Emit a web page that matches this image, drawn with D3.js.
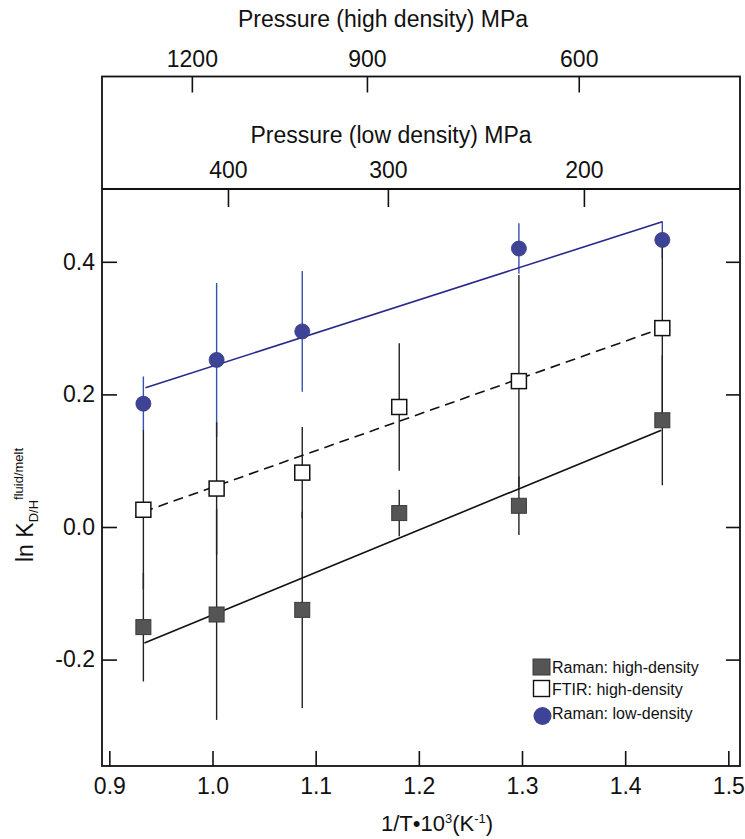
<!DOCTYPE html>
<html>
<head>
<meta charset="utf-8">
<script src="https://cdn.jsdelivr.net/npm/d3@7"></script>
<style>
  body { margin: 0; background: #fff; }
  svg text { font-family: "Liberation Sans", Arial, Helvetica, sans-serif; fill: #111; }
</style>
</head>
<body>
<script>
// data
var invT = [0.933, 1.004, 1.087, 1.181, 1.297, 1.436];
var ramanHD = [-0.151, -0.132, -0.125, 0.021, 0.032, 0.161];
var ramanHDErr = [0.082, 0.159, 0.148, 0.035, 0.044, 0.098];
var ftirHD = [0.026, 0.058, 0.082, 0.181, 0.220, 0.300];
var ftirHDErr = [0.120, 0.100, 0.069, 0.096, 0.160, 0.130];
var ramanLDx = [0.933, 1.004, 1.087, 1.297, 1.436];
var ramanLD = [0.186, 0.252, 0.295, 0.420, 0.433];
var ramanLDErr = [0.041, 0.116, 0.091, 0.038, 0.028];
// fitted lines (end points)
var fitRamanHD = [[0.934, -0.175], [1.435, 0.146]];
var fitFtirHD = [[0.933, 0.023], [1.436, 0.300]];
var fitRamanLD = [[0.935, 0.210], [1.436, 0.4605]];
// axes ticks
var xTicks = [0.9, 1.0, 1.1, 1.2, 1.3, 1.4, 1.5];
var yTicks = [-0.2, 0.0, 0.2, 0.4];
var hdPressure = [1200, 900, 600];
var hdPressureAt = [0.980, 1.1497, 1.355];
var ldPressure = [400, 300, 200];
var ldPressureAt = [1.015, 1.170, 1.360];
var legendLabels = ["Raman: high-density", "FTIR: high-density", "Raman: low-density"];

var W = 745, H = 839;
var left = 102, right = 740, top1 = 76.5, top2 = 189, bottom = 766;
var blue = "#3d4396", blueLine = "#27288a", blueErr = "#3552ad", gray = "#555555";

var svg = d3.select("body").append("svg").attr("width", W).attr("height", H);

var x = d3.scaleLinear().domain([0.8929, 1.5113]).range([left, right]);
var y = d3.scaleLinear().domain([-0.3605, 0.5098]).range([bottom, top2]);

function fmt(d) {
    return d3.format(".1f")(d).replace("\u2212", "-");
}

//坐标轴
var gx = svg.append("g").attr("transform", "translate(0," + bottom + ")")
    .call(d3.axisBottom(x).tickValues(xTicks).tickFormat(fmt).tickSizeInner(-15).tickSizeOuter(0).tickPadding(12));
var gy = svg.append("g").attr("transform", "translate(" + left + ",0)")
    .call(d3.axisLeft(y).tickValues(yTicks).tickFormat(fmt).tickSizeInner(-15).tickSizeOuter(0).tickPadding(7));
var gr = svg.append("g").attr("transform", "translate(" + right + ",0)")
    .call(d3.axisRight(y).tickValues(yTicks).tickFormat("").tickSizeInner(-14).tickSizeOuter(0));
var gld = svg.append("g").attr("transform", "translate(0," + top2 + ")")
    .call(d3.axisTop(x).tickValues(ldPressureAt).tickFormat(function (d, i) { return ldPressure[i]; })
        .tickSizeInner(-18).tickSizeOuter(0).tickPadding(11));
var ghd = svg.append("g").attr("transform", "translate(0," + top1 + ")")
    .call(d3.axisTop(x).tickValues(hdPressureAt).tickFormat(function (d, i) { return hdPressure[i]; })
        .tickSizeInner(-16).tickSizeOuter(0).tickPadding(9.5));
[gx, gy, gr, gld, ghd].forEach(function (g) {
    g.select(".domain").remove();
    g.selectAll(".tick line").attr("stroke", "#111").attr("stroke-width", 1.6);
    g.selectAll(".tick text").style("font-size", "23px").attr("fill", "#111");
});

//边框
svg.append("rect").attr("x", left).attr("y", top1).attr("width", right - left).attr("height", bottom - top1)
    .attr("fill", "none").attr("stroke", "#111").attr("stroke-width", 1.8);
svg.append("line").attr("x1", left).attr("x2", right).attr("y1", top2).attr("y2", top2)
    .attr("stroke", "#111").attr("stroke-width", 1.8);

//标题
svg.append("text").attr("x", 383).attr("y", 27).attr("text-anchor", "middle").style("font-size", "23px")
    .text("Pressure (high density) MPa");
svg.append("text").attr("x", 391).attr("y", 143).attr("text-anchor", "middle").style("font-size", "23px")
    .text("Pressure (low density) MPa");

var xl = svg.append("text").attr("x", 437).attr("y", 831).attr("text-anchor", "middle").style("font-size", "22px");
xl.append("tspan").text("1/T\u202210");
xl.append("tspan").attr("dy", -8).style("font-size", "13px").text("3");
xl.append("tspan").attr("dy", 8).text("(K");
xl.append("tspan").attr("dy", -8).style("font-size", "13px").text("-1");
xl.append("tspan").attr("dy", 8).text(")");

var yl = svg.append("text").attr("transform", "translate(33,562) rotate(-90)").style("font-size", "23px");
yl.append("tspan").text("ln K");
yl.append("tspan").attr("dy", 5).style("font-size", "13px").text("D/H");
yl.append("tspan").attr("dy", -15).style("font-size", "13px").text("fluid/melt");

//误差线
var gErr = svg.append("g");
gErr.selectAll("line.ld").data(ramanLD).enter().append("line").classed("ld", true)
    .attr("x1", function (d, i) { return x(ramanLDx[i]); })
    .attr("x2", function (d, i) { return x(ramanLDx[i]); })
    .attr("y1", function (d, i) { return y(d + ramanLDErr[i]); })
    .attr("y2", function (d, i) { return y(d - ramanLDErr[i]); })
    .attr("stroke", blueErr).attr("stroke-width", 1.4);
gErr.selectAll("line.ftir").data(ftirHD).enter().append("line").classed("ftir", true)
    .attr("x1", function (d, i) { return x(invT[i]); })
    .attr("x2", function (d, i) { return x(invT[i]); })
    .attr("y1", function (d, i) { return y(d + ftirHDErr[i]); })
    .attr("y2", function (d, i) { return y(d - ftirHDErr[i]); })
    .attr("stroke", "#222").attr("stroke-width", 1.4);
gErr.selectAll("line.hd").data(ramanHD).enter().append("line").classed("hd", true)
    .attr("x1", function (d, i) { return x(invT[i]); })
    .attr("x2", function (d, i) { return x(invT[i]); })
    .attr("y1", function (d, i) { return y(d + ramanHDErr[i]); })
    .attr("y2", function (d, i) { return y(d - ramanHDErr[i]); })
    .attr("stroke", "#222").attr("stroke-width", 1.4);

//拟合线
var line = d3.line().x(function (d) { return x(d[0]); }).y(function (d) { return y(d[1]); });
svg.append("path").attr("d", line(fitRamanHD)).attr("fill", "none").attr("stroke", "#111").attr("stroke-width", 1.6);
svg.append("path").attr("d", line(fitFtirHD)).attr("fill", "none").attr("stroke", "#111").attr("stroke-width", 1.6)
    .attr("stroke-dasharray", "10,6");
svg.append("path").attr("d", line(fitRamanLD)).attr("fill", "none").attr("stroke", blueLine).attr("stroke-width", 1.6);

//数据点
var s = 15;
svg.selectAll("rect.hd").data(ramanHD).enter().append("rect").classed("hd", true)
    .attr("x", function (d, i) { return x(invT[i]) - s / 2; })
    .attr("y", function (d) { return y(d) - s / 2; })
    .attr("width", s).attr("height", s)
    .attr("fill", gray).attr("stroke", "#3a3a3a").attr("stroke-width", 1);
svg.selectAll("rect.ftir").data(ftirHD).enter().append("rect").classed("ftir", true)
    .attr("x", function (d, i) { return x(invT[i]) - s / 2; })
    .attr("y", function (d) { return y(d) - s / 2; })
    .attr("width", s).attr("height", s)
    .attr("fill", "#fff").attr("stroke", "#111").attr("stroke-width", 1.5);
svg.selectAll("circle.ld").data(ramanLD).enter().append("circle").classed("ld", true)
    .attr("cx", function (d, i) { return x(ramanLDx[i]); })
    .attr("cy", function (d) { return y(d); })
    .attr("r", 7.5)
    .attr("fill", blue).attr("stroke", "#34387f").attr("stroke-width", 0.8);

//图例
var lg = svg.append("g").attr("transform", "translate(533,659)");
lg.append("rect").attr("x", 0).attr("y", 0).attr("width", 17).attr("height", 16)
    .attr("fill", gray).attr("stroke", "#3a3a3a");
lg.append("rect").attr("x", 0.5).attr("y", 21.5).attr("width", 16).attr("height", 16)
    .attr("fill", "#fff").attr("stroke", "#111").attr("stroke-width", 1.4);
lg.append("circle").attr("cx", 9.5).attr("cy", 57).attr("r", 9).attr("fill", blue);
lg.selectAll("text").data(legendLabels).enter().append("text")
    .attr("x", 19)
    .attr("y", function (d, i) { return [14, 36, 60][i]; })
    .style("font-size", "16px")
    .text(function (d) { return d; });
</script>
</body>
</html>
